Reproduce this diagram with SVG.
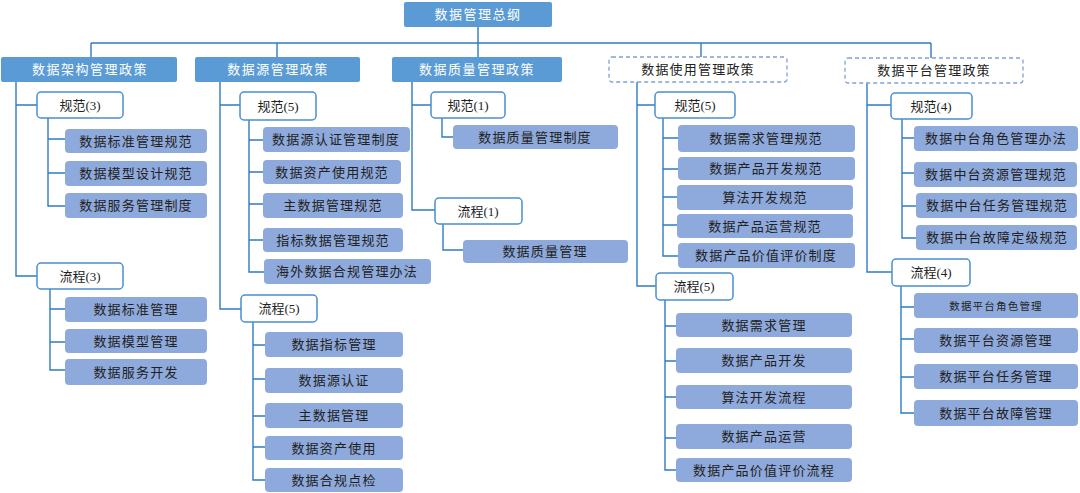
<svg xmlns="http://www.w3.org/2000/svg" width="1080" height="493" viewBox="0 0 1080 493">
<style>
text{font-family:"Liberation Serif","Noto Sans CJK SC",sans-serif;font-size:13px;fill:#222;text-anchor:middle}
.l1{fill:#5B9BD5}
.l1t{fill:#fff;letter-spacing:1.5px}
.dash{fill:#fff;stroke:#7FA3D6;stroke-width:1.3;stroke-dasharray:4 3}
.l2{fill:#fff;stroke:#4A8FD0;stroke-width:1.5}
.l3{fill:#8EA9DB}
.l3t{letter-spacing:1.2px}
.c path{fill:none;stroke:#2F7BC1;stroke-width:1.4}
</style>
<g class="c" id="connectors">
<path d="M478 27V57M91 43H931M91 43V57M277 43V57M701 43V57M931 43V58"/>
<path d="M16 82V276H37M16 105H37M48 118V206H65M48 139H65M48 173H65M50 289V370H65M50 309H65M50 342H65"/>
<path d="M220 82V309H241M220 105H240M249 120V272H264M249 140H263M249 172H263M249 204H263M249 240H263M253 322V480H265M253 345H265M253 379H265M253 416H265M253 447H265"/>
<path d="M412 82V210H435M412 105H431M442 118V137H453M443 224V250H463"/>
<path d="M637 82V286H656M637 105H655M663 118V256H678M663 138H678M663 169H678M663 197H677M663 225H677M665 300V470H676M665 326H676M665 361H676M665 397H676M665 438H676"/>
<path d="M867 83V272H892M867 105H891M902 119V238H916M902 138H914M902 173H914M902 206H916M901 286V413H914M901 307H914M901 339H914M901 377H914"/>
</g>
<g id="root"><rect class="l1" x="404" y="2" width="148" height="25" rx="2"/><text class="l1t" x="478" y="19">数据管理总纲</text></g>
<g id="p1"><rect class="l1" x="1" y="57" width="176" height="25" rx="2"/><text class="l1t" x="90" y="74">数据架构管理政策</text></g>
<g id="p2"><rect class="l1" x="195" y="57" width="165" height="25" rx="2"/><text class="l1t" x="278" y="74">数据源管理政策</text></g>
<g id="p3"><rect class="l1" x="392" y="57" width="170" height="25" rx="2"/><text class="l1t" x="477" y="74">数据质量管理政策</text></g>
<g id="p4"><rect class="dash" x="609" y="57" width="178" height="25" rx="3"/><text class="l3t" x="698" y="74">数据使用管理政策</text></g>
<g id="p5"><rect class="dash" x="845" y="58" width="178" height="25" rx="3"/><text class="l3t" x="934" y="75">数据平台管理政策</text></g>

<g id="a-gf"><rect class="l2" x="37" y="92" width="86" height="26" rx="4"/><text x="80" y="110">规范(3)</text></g>
<g id="a-lc"><rect class="l2" x="37" y="263" width="86" height="26" rx="4"/><text x="80" y="281">流程(3)</text></g>
<g id="a1"><rect class="l3" x="65" y="129" width="142" height="24" rx="4"/><text class="l3t" x="136" y="145.5">数据标准管理规范</text></g>
<g id="a2"><rect class="l3" x="65" y="161" width="142" height="25" rx="4"/><text class="l3t" x="136" y="178">数据模型设计规范</text></g>
<g id="a3"><rect class="l3" x="65" y="193" width="142" height="25" rx="4"/><text class="l3t" x="136" y="210">数据服务管理制度</text></g>
<g id="a4"><rect class="l3" x="65" y="297" width="142" height="25" rx="4"/><text class="l3t" x="136" y="314">数据标准管理</text></g>
<g id="a5"><rect class="l3" x="65" y="329" width="142" height="24" rx="4"/><text class="l3t" x="136" y="345.5">数据模型管理</text></g>
<g id="a6"><rect class="l3" x="65" y="359" width="142" height="26" rx="4"/><text class="l3t" x="136" y="376.5">数据服务开发</text></g>

<g id="s-gf"><rect class="l2" x="240" y="92" width="76" height="28" rx="4"/><text x="278" y="111">规范(5)</text></g>
<g id="s-lc"><rect class="l2" x="241" y="295" width="76" height="27" rx="4"/><text x="279" y="313">流程(5)</text></g>
<g id="s1"><rect class="l3" x="263" y="127" width="147" height="25" rx="4"/><text class="l3t" x="336" y="144">数据源认证管理制度</text></g>
<g id="s2"><rect class="l3" x="263" y="160" width="138" height="24" rx="4"/><text class="l3t" x="332" y="176.5">数据资产使用规范</text></g>
<g id="s3"><rect class="l3" x="263" y="193" width="140" height="25" rx="4"/><text class="l3t" x="333" y="210">主数据管理规范</text></g>
<g id="s4"><rect class="l3" x="263" y="228" width="140" height="24" rx="4"/><text class="l3t" x="333" y="244.5">指标数据管理规范</text></g>
<g id="s5"><rect class="l3" x="264" y="259" width="167" height="25" rx="4"/><text class="l3t" x="347" y="276">海外数据合规管理办法</text></g>
<g id="s6"><rect class="l3" x="265" y="332" width="138" height="25" rx="4"/><text class="l3t" x="334" y="349">数据指标管理</text></g>
<g id="s7"><rect class="l3" x="265" y="368" width="138" height="25" rx="4"/><text class="l3t" x="334" y="385">数据源认证</text></g>
<g id="s8"><rect class="l3" x="265" y="403" width="138" height="25" rx="4"/><text class="l3t" x="334" y="420">主数据管理</text></g>
<g id="s9"><rect class="l3" x="265" y="436" width="138" height="24" rx="4"/><text class="l3t" x="334" y="452.5">数据资产使用</text></g>
<g id="s10"><rect class="l3" x="265" y="468" width="138" height="24" rx="4"/><text class="l3t" x="334" y="484.5">数据合规点检</text></g>

<g id="q-gf"><rect class="l2" x="431" y="92" width="74" height="26" rx="4"/><text x="468" y="110">规范(1)</text></g>
<g id="q-lc"><rect class="l2" x="435" y="198" width="87" height="26" rx="4"/><text x="478" y="216">流程(1)</text></g>
<g id="q1"><rect class="l3" x="453" y="125" width="165" height="24" rx="4"/><text class="l3t" x="535" y="141.5">数据质量管理制度</text></g>
<g id="q2"><rect class="l3" x="463" y="240" width="165" height="23" rx="4"/><text class="l3t" x="545" y="256">数据质量管理</text></g>

<g id="u-gf"><rect class="l2" x="655" y="92" width="80" height="26" rx="4"/><text x="695" y="110">规范(5)</text></g>
<g id="u-lc"><rect class="l2" x="656" y="273" width="77" height="27" rx="4"/><text x="694" y="291">流程(5)</text></g>
<g id="u1"><rect class="l3" x="678" y="125" width="177" height="27" rx="4"/><text class="l3t" x="766" y="143">数据需求管理规范</text></g>
<g id="u2"><rect class="l3" x="678" y="157" width="177" height="23" rx="4"/><text class="l3t" x="766" y="173">数据产品开发规范</text></g>
<g id="u3"><rect class="l3" x="677" y="185" width="176" height="25" rx="4"/><text class="l3t" x="765" y="202">算法开发规范</text></g>
<g id="u4"><rect class="l3" x="677" y="214" width="176" height="24" rx="4"/><text class="l3t" x="765" y="230.5">数据产品运营规范</text></g>
<g id="u5"><rect class="l3" x="678" y="243" width="177" height="25" rx="4"/><text class="l3t" x="766" y="260">数据产品价值评价制度</text></g>
<g id="u6"><rect class="l3" x="676" y="313" width="176" height="24" rx="4"/><text class="l3t" x="764" y="329.5">数据需求管理</text></g>
<g id="u7"><rect class="l3" x="676" y="348" width="176" height="25" rx="4"/><text class="l3t" x="764" y="365">数据产品开发</text></g>
<g id="u8"><rect class="l3" x="676" y="385" width="176" height="24" rx="4"/><text class="l3t" x="764" y="401.5">算法开发流程</text></g>
<g id="u9"><rect class="l3" x="676" y="424" width="176" height="25" rx="4"/><text class="l3t" x="764" y="441">数据产品运营</text></g>
<g id="u10"><rect class="l3" x="676" y="458" width="176" height="24" rx="4"/><text class="l3t" x="764" y="474.5">数据产品价值评价流程</text></g>

<g id="m-gf"><rect class="l2" x="891" y="93" width="81" height="26" rx="4"/><text x="931" y="111">规范(4)</text></g>
<g id="m-lc"><rect class="l2" x="892" y="259" width="78" height="27" rx="4"/><text x="931" y="277">流程(4)</text></g>
<g id="m1"><rect class="l3" x="914" y="126" width="164" height="25" rx="4"/><text class="l3t" x="996" y="143">数据中台角色管理办法</text></g>
<g id="m2"><rect class="l3" x="914" y="162" width="163" height="25" rx="4"/><text class="l3t" x="996" y="179">数据中台资源管理规范</text></g>
<g id="m3"><rect class="l3" x="916" y="193" width="161" height="25" rx="4"/><text class="l3t" x="997" y="210">数据中台任务管理规范</text></g>
<g id="m4"><rect class="l3" x="916" y="225" width="161" height="25" rx="4"/><text class="l3t" x="997" y="242">数据中台故障定级规范</text></g>
<g id="m5"><rect class="l3" x="914" y="293" width="164" height="25" rx="4"/><text class="l3t" x="996" y="309.5" style="font-size:10.5px">数据平台角色管理</text></g>
<g id="m6"><rect class="l3" x="914" y="328" width="164" height="25" rx="4"/><text class="l3t" x="996" y="345">数据平台资源管理</text></g>
<g id="m7"><rect class="l3" x="914" y="364" width="164" height="25" rx="4"/><text class="l3t" x="996" y="381">数据平台任务管理</text></g>
<g id="m8"><rect class="l3" x="914" y="400" width="164" height="26" rx="4"/><text class="l3t" x="996" y="417.5">数据平台故障管理</text></g>
</svg>
